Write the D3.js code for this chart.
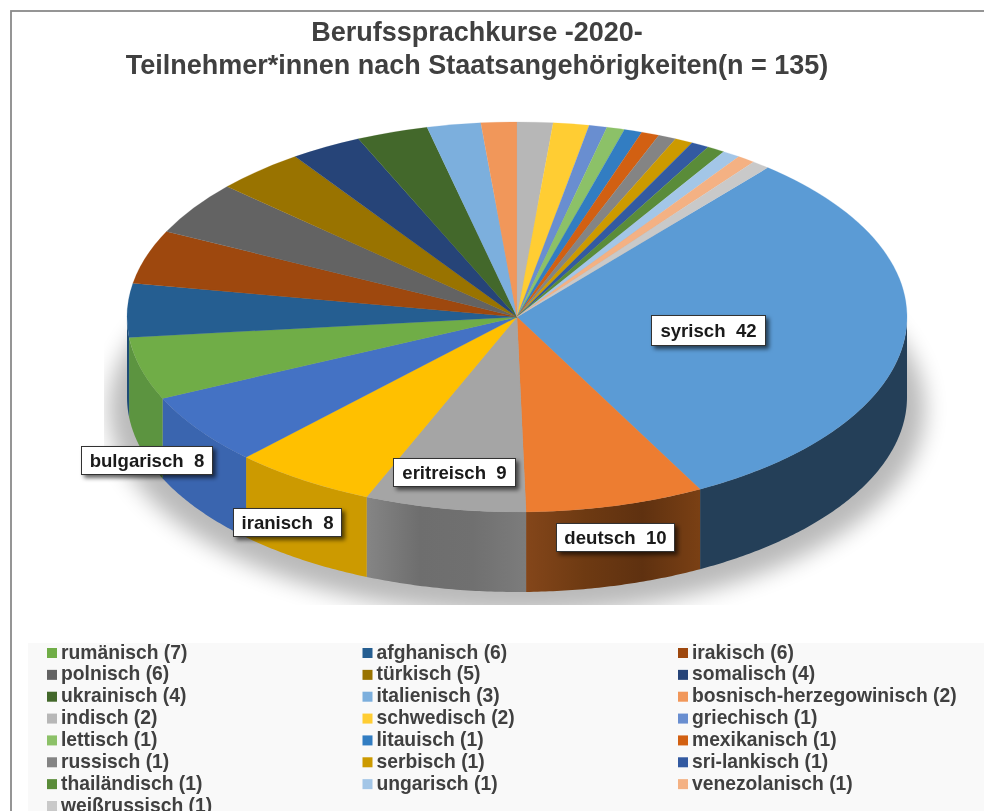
<!DOCTYPE html>
<html><head><meta charset="utf-8">
<script src="https://cdn.jsdelivr.net/npm/d3@7"></script>
<style>html,body{margin:0;padding:0;background:#fff;overflow:hidden}svg{display:block;filter:blur(.45px)}text{font-family:"Liberation Sans",Arial,sans-serif;font-weight:700}</style>
</head><body><svg id="c" width="984" height="811"></svg>
<script>
const categories=["syrisch","deutsch","eritreisch","iranisch","bulgarisch","rumänisch","afghanisch","irakisch","polnisch","türkisch","somalisch","ukrainisch","italienisch","bosnisch-herzegowinisch","indisch","schwedisch","griechisch","lettisch","litauisch","mexikanisch","russisch","serbisch","sri-lankisch","thailändisch","ungarisch","venezolanisch","weißrussisch"];
const values=[42,10,9,8,8,7,6,6,6,5,4,4,3,2,2,2,1,1,1,1,1,1,1,1,1,1,1];
const colors=["#5B9BD5","#ED7D31","#A5A5A5","#FFC000","#4472C4","#70AD47","#255E91","#9E480E","#636363","#997300","#264478","#43682B","#7CAFDD","#F1975A","#B7B7B7","#FFCD33","#698ED0","#8CC168","#327DC2","#D26012","#848484","#CC9A00","#335AA1","#5A8C39","#A3C6E7","#F4B183","#C9C9C9"];
const sideColors=["#243F58","url(#wall1)","url(#wall2)","#CC9A00","#3A65AF","#5C9440"];
const wall1Stops=["#84461A","#6E3A12","#5F3110","#7A4014"];
const wall2Stops=["#858585","#6E6E6E","#707070","#7C7C7C"];
const titleLines=["Berufssprachkurse -2020-","Teilnehmer*innen nach Staatsangehörigkeiten(n = 135)"];
const labeled=["syrisch","deutsch","eritreisch","iranisch","bulgarisch"];
const labelBoxes=[[651,315,114,30],[556,523,118,28],[393,458,122,28],[233,508,108,28],[81,446,131,28]];

const cx=517,cy=317,rx=390,ry=195,depth=80,startDeg=40;
const svg=d3.select("#c");
const defs=svg.append("defs");
const blur=defs.append("filter").attr("id","blur").attr("x","-20%").attr("y","-20%").attr("width","140%").attr("height","140%");
blur.append("feGaussianBlur").attr("stdDeviation",11);
const ds=defs.append("filter").attr("id","ds").attr("x","-20%").attr("y","-30%").attr("width","150%").attr("height","170%");
ds.append("feDropShadow").attr("dx",3).attr("dy",3).attr("stdDeviation",2).attr("flood-color","#000").attr("flood-opacity",.6);
defs.append("clipPath").attr("id","shClip").append("rect").attr("x",104).attr("y",0).attr("width",880).attr("height",605);
[["wall1",wall1Stops],["wall2",wall2Stops]].forEach(([id,stops])=>{
  const g=defs.append("linearGradient").attr("id",id);
  stops.forEach((c,i)=>g.append("stop").attr("offset",i/(stops.length-1)).attr("stop-color",c));
});

// frame
svg.append("rect").attr("x",11).attr("y",11).attr("width",1000).attr("height",840).attr("fill","#fff").attr("stroke","#8a8a8a").attr("stroke-width",1.8);

// title
svg.append("g").selectAll("text").data(titleLines).join("text")
 .attr("x",477).attr("y",(d,i)=>[41,74][i]).attr("text-anchor","middle")
 .attr("font-size",27).attr("fill","#404040").text(d=>d);

const px=d3.scaleLinear().domain([-1,1]).range([cx-rx,cx+rx]);
const py=d3.scaleLinear().domain([-1,1]).range([cy-ry,cy+ry]);

const pie=d3.pie().value(d=>d).sort(null).startAngle(startDeg*Math.PI/180).endAngle((startDeg+360)*Math.PI/180);
const arcs=pie(values);

// shadow
svg.append("g").attr("clip-path","url(#shClip)").append("ellipse")
 .attr("cx",cx).attr("cy",cy+92).attr("rx",rx+18).attr("ry",ry+10)
 .attr("fill","#000").attr("opacity",.27).attr("filter","url(#blur)");

// side walls
const wallG=svg.append("g");
function wallPath(a0,a1){
  const n=Math.max(2,Math.ceil((a1-a0)/0.01));
  const top=d3.range(n+1).map(i=>a0+(a1-a0)*i/n).map(a=>[px(Math.sin(a)),py(-Math.cos(a))]);
  const bot=top.slice().reverse().map(p=>[p[0],p[1]+depth]);
  return d3.line()(top.concat(bot))+"Z";
}
const L=Math.PI/2,R=3*Math.PI/2;
arcs.forEach((d,i)=>{
  [0,2*Math.PI].forEach(off=>{
    const a0=Math.max(d.startAngle-off,L),a1=Math.min(d.endAngle-off,R);
    if(a1>a0){
      wallG.append("path").attr("d",wallPath(a0,a1))
       .attr("fill",sideColors[i]||d3.color(colors[i]).darker(.6).formatHex());
    }
  });
});

// top face
const arcGen=d3.arc().innerRadius(0).outerRadius(rx);
svg.append("g").attr("transform",`translate(${cx},${cy}) scale(1,${ry/rx})`)
 .selectAll("path").data(arcs).join("path")
 .attr("d",arcGen).attr("fill",(d,i)=>colors[i]).attr("stroke",(d,i)=>colors[i]).attr("stroke-width",.3);

// data labels
const lab=svg.append("g").selectAll("g").data(labeled).join("g");
lab.append("rect").attr("x",(d,i)=>labelBoxes[i][0]+.5).attr("y",(d,i)=>labelBoxes[i][1]+.5)
 .attr("width",(d,i)=>labelBoxes[i][2]).attr("height",(d,i)=>labelBoxes[i][3])
 .attr("fill","#fff").attr("stroke","#333").attr("stroke-width",1).attr("filter","url(#ds)");
lab.append("text").attr("x",(d,i)=>labelBoxes[i][0]+labelBoxes[i][2]/2+.5).attr("y",(d,i)=>labelBoxes[i][1]+labelBoxes[i][3]/2+6.5)
 .attr("text-anchor","middle").attr("font-size",18.6).attr("fill","#1a1a1a")
 .style("white-space","pre")
 .text(d=>`${d}  ${values[categories.indexOf(d)]}`);

// legend
svg.append("rect").attr("x",28).attr("y",643).attr("width",956).attr("height",168).attr("fill","#f9f9f9");
const legendItems=categories.slice(5);
const colX=d3.scalePoint().domain([0,1,2]).range([47,678]);
const rowY=d3.scaleLinear().domain([0,7]).range([653,806]);
const leg=svg.append("g").selectAll("g").data(legendItems).join("g")
 .attr("transform",(d,i)=>`translate(${colX(i%3)},${rowY(Math.floor(i/3))})`);
leg.append("rect").attr("x",0).attr("y",-5).attr("width",10).attr("height",10).attr("fill",(d,i)=>colors[i+5]);
leg.append("text").attr("x",14).attr("y",5.5).attr("font-size",19.3).attr("fill","#404040")
 .text((d,i)=>`${d} (${values[i+5]})`);
</script></body></html>
